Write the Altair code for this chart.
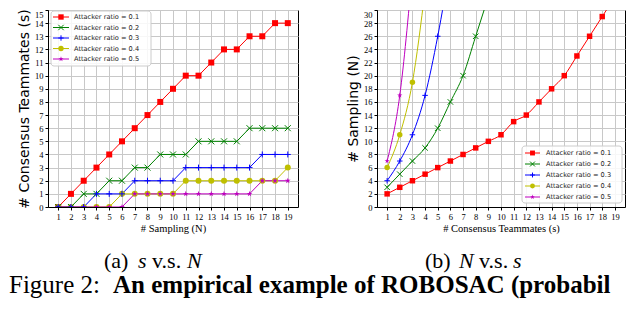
import altair as alt
import pandas as pd

labels = ["Attacker ratio = 0.1", "Attacker ratio = 0.2", "Attacker ratio = 0.3",
          "Attacker ratio = 0.4", "Attacker ratio = 0.5"]
colors = ["#ff0000", "#008000", "#0000ff", "#bfbf00", "#bf00bf"]
STAR = ("M0,-1L0.2245,-0.309L0.951,-0.309L0.363,0.118L0.588,0.809L0,0.382"
        "L-0.588,0.809L-0.363,0.118L-0.951,-0.309L-0.2245,-0.309Z")
shapes = ["square", "M-1,-1L1,1M1,-1L-1,1", "M-1,0L1,0M0,-1L0,1", "circle", STAR]
filled_series = [labels[0], labels[3], labels[4]]
stroked_series = [labels[1], labels[2]]

# Panel (a): s vs N
n_sampling = list(range(1, 20))
s_r01 = [0, 1, 2, 3, 4, 5, 6, 7, 8, 9, 10, 10, 11, 12, 12, 13, 13, 14, 14]
s_r02 = [0, 0, 1, 1, 2, 2, 3, 3, 4, 4, 4, 5, 5, 5, 5, 6, 6, 6, 6]
s_r03 = [0, 0, 0, 1, 1, 1, 2, 2, 2, 2, 3, 3, 3, 3, 3, 3, 4, 4, 4]
s_r04 = [0, 0, 0, 0, 0, 1, 1, 1, 1, 1, 2, 2, 2, 2, 2, 2, 2, 2, 3]
s_r05 = [0, 0, 0, 0, 0, 0, 1, 1, 1, 1, 1, 1, 1, 1, 1, 1, 2, 2, 2]

# Panel (b): N vs s
s_team = list(range(1, 20))
N_r01 = [2, 3, 4, 5, 6, 7, 8, 9, 10, 11, 13, 14, 16, 18, 20, 23, 26, 29, 32]
N_r02 = [3, 5, 7, 9, 12, 16, 20, 26, 32]
N_r03 = [4, 7, 11, 17, 26, 37]
N_r04 = [6, 11, 19, 33]
N_r05 = [7, 17, 36]

ticks_x = list(range(1, 20))
ticks_ya = list(range(0, 16))
ticks_yb = list(range(0, 31, 2))


def long_df(xs, series):
    rows = []
    for lab, ys in zip(labels, series):
        for xv, yv in zip(xs, ys):
            rows.append({"x": xv, "y": yv, "series": lab})
    return pd.DataFrame(rows)


df_a = long_df(n_sampling, [s_r01, s_r02, s_r03, s_r04, s_r05])
df_b = long_df(s_team, [N_r01, N_r02, N_r03, N_r04, N_r05])
leg_df = pd.DataFrame({"series": labels})
one = pd.DataFrame({"k": [0]})

color_scale = alt.Scale(domain=labels, range=colors)
shape_scale = alt.Scale(domain=labels, range=shapes)
H = 197


def panel(df, width, ydom, yticks, xtitle, ytitle, interp, msize, leg, caps):
    x = alt.X("x:Q", scale=alt.Scale(domain=[0.2, 19.8], nice=False, zero=False),
              axis=alt.Axis(values=ticks_x, title=xtitle, format="d"))
    y = alt.Y("y:Q", scale=alt.Scale(domain=ydom, nice=False, zero=False),
              axis=alt.Axis(values=yticks, title=ytitle, format="d",
                            labelBaseline={"condition": {"test": "datum.value >= %d" % ydom[1],
                                                         "value": "top"},
                                           "value": "middle"}))
    col = alt.Color("series:N", scale=color_scale, legend=None)
    shp = alt.Shape("series:N", scale=shape_scale, legend=None)
    base = alt.Chart(df)
    line = base.mark_line(clip=True, strokeWidth=1, interpolate=interp).encode(x=x, y=y, color=col)
    pf = base.transform_filter(alt.FieldOneOfPredicate(field="series", oneOf=filled_series)).mark_point(
        filled=True, clip=True, size=msize, opacity=1).encode(x=x, y=y, color=col, shape=shp)
    ps = base.transform_filter(alt.FieldOneOfPredicate(field="series", oneOf=stroked_series)).mark_point(
        filled=False, clip=True, size=msize, opacity=1, strokeWidth=1).encode(x=x, y=y, color=col, shape=shp)
    main = alt.layer(line, pf, ps)

    ly = alt.Y("series:N", scale=alt.Scale(type="point", domain=labels, range=leg["rows"], padding=0), axis=None)
    box = alt.Chart(one).mark_rect(fill="white", fillOpacity=0.85, stroke="#cccccc", strokeWidth=1,
                                   cornerRadius=3).encode(
        x=alt.value(leg["box"][0]), x2=alt.value(leg["box"][1]),
        y=alt.value(leg["box"][2]), y2=alt.value(leg["box"][3]))
    lbase = alt.Chart(leg_df)
    lrule = lbase.mark_rule(strokeWidth=1).encode(x=alt.value(leg["line"][0]), x2=alt.value(leg["line"][1]),
                                                   y=ly, color=col)
    lpf = lbase.transform_filter(alt.FieldOneOfPredicate(field="series", oneOf=filled_series)).mark_point(
        filled=True, size=msize * 0.8, opacity=1).encode(x=alt.value(leg["marker"]), y=ly, color=col, shape=shp)
    lps = lbase.transform_filter(alt.FieldOneOfPredicate(field="series", oneOf=stroked_series)).mark_point(
        filled=False, size=msize * 0.8, opacity=1, strokeWidth=1).encode(x=alt.value(leg["marker"]), y=ly,
                                                                         color=col, shape=shp)
    ltext = lbase.mark_text(align="left", baseline="middle", font="DejaVu Sans", fontSize=6.6,
                            color="#222222").encode(x=alt.value(leg["text"]), y=ly, text="series:N")
    legend = alt.layer(box, lrule, lpf, lps, ltext)

    cap_layers = []
    for txt, cx, cy, style, fsize, weight in caps:
        cap_layers.append(alt.Chart(one).mark_text(
            text=txt, align="left", baseline="alphabetic", font="Liberation Serif", fontSize=fsize,
            fontStyle=style, fontWeight=weight, color="black").encode(x=alt.value(cx), y=alt.value(cy)))

    return alt.layer(main, legend, *cap_layers).resolve_scale(y="independent").properties(width=width, height=H)


left = panel(
    df_a, 250, [0, 15], ticks_ya, "# Sampling (N)", "# Consensus Teammates (s)", "linear", 36,
    {"rows": [7, 49], "box": [3, 103, 1, 56], "line": [5, 21], "marker": 13, "text": 26},
    [("(a)", 56, 258, "normal", 22, "normal"),
     ("s", 90, 258, "italic", 22, "normal"),
     ("v.s.", 104, 258, "normal", 22, "normal"),
     ("N", 139, 258, "italic", 22, "normal"),
     ("Figure 2:", -39, 283, "normal", 25, "normal"),
     ("An empirical example of ROBOSAC (probabil", 65, 283, "normal", 25, "bold")])

right = panel(
    df_b, 248, [0, 30], ticks_yb, "# Consensus Teammates (s)", "# Sampling (N)", "monotone", 30,
    {"rows": [143, 187], "box": [145, 245, 136, 193], "line": [148, 163], "marker": 155.5, "text": 169},
    [("(b)", 48, 258, "normal", 22, "normal"),
     ("N", 82, 258, "italic", 22, "normal"),
     ("v.s.", 102, 258, "normal", 22, "normal"),
     ("s", 136, 258, "italic", 22, "normal")])

chart = alt.hconcat(left, right, spacing=79, bounds="flush").properties(
    padding={"left": 0, "top": 0, "right": 2, "bottom": 0}
).configure_view(stroke="black", strokeWidth=1).configure_axis(
    labelFont="Liberation Serif", labelFontSize=8.5, labelColor="black",
    tickColor="black", tickSize=3, domainColor="black", labelPadding=2,
    gridColor="#c8c8c8", gridWidth=1, titleColor="black", titleFontWeight="normal"
).configure_axisX(
    titleFont="Liberation Serif", titleFontSize=10.5, titlePadding=3
).configure_axisY(
    titleFont="DejaVu Sans", titleFontSize=14, titlePadding=3
)

chart.save("out.html", embed_options={"renderer": "svg", "actions": False})
